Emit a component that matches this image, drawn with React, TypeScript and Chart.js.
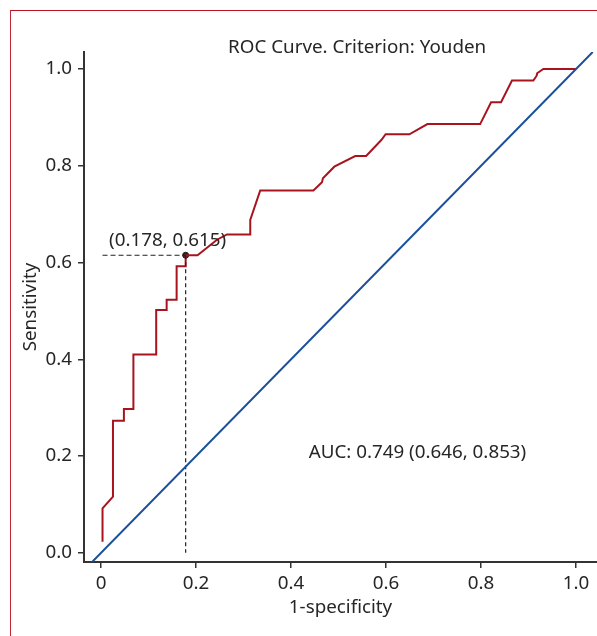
import React, { useEffect, useRef } from "react";
import { Chart, registerables } from "chart.js";

Chart.register(...registerables);

const fpr = [0.003, 0.003, 0.025, 0.025, 0.048, 0.048, 0.068, 0.068, 0.116, 0.116, 0.138, 0.138, 0.159, 0.159, 0.178, 0.178, 0.203, 0.244, 0.265, 0.314, 0.314, 0.335, 0.447, 0.465, 0.467, 0.491, 0.535, 0.558, 0.587, 0.59, 0.599, 0.649, 0.687, 0.798, 0.821, 0.842, 0.865, 0.91, 0.917, 0.918, 0.931, 1.0];
const tpr = [0.023, 0.092, 0.116, 0.273, 0.273, 0.297, 0.297, 0.41, 0.41, 0.502, 0.502, 0.523, 0.523, 0.592, 0.592, 0.615, 0.615, 0.647, 0.658, 0.658, 0.688, 0.749, 0.749, 0.766, 0.774, 0.798, 0.82, 0.82, 0.85, 0.853, 0.865, 0.865, 0.886, 0.886, 0.931, 0.931, 0.976, 0.976, 0.986, 0.991, 1.0, 1.0];
const refX = [-0.02, 1.035];
const refY = [-0.02, 1.035];
const cutX = 0.178;
const cutY = 0.615;
const xTicks = [0, 0.2, 0.4, 0.6, 0.8, 1.0];
const xTickLabels = ["0", "0.2", "0.4", "0.6", "0.8", "1.0"];
const yTicks = [0, 0.2, 0.4, 0.6, 0.8, 1.0];
const yTickLabels = ["0.0", "0.2", "0.4", "0.6", "0.8", "1.0"];
const titleText = "ROC Curve. Criterion: Youden";
const cutLabel = "(0.178, 0.615)";
const aucLabel = "AUC: 0.749 (0.646, 0.853)";

const FONT = "'Noto Sans', sans-serif";
const FS = 18.8;
const TEXT = "#262626";

const textPlugin = {
  id: "texts",
  afterDatasetsDraw(chart: any) {
    const { ctx, scales } = chart;
    const x = scales.x;
    const y = scales.y;
    ctx.save();
    ctx.fillStyle = TEXT;
    ctx.font = `${FS}px ${FONT}`;
    ctx.textBaseline = "middle";
    ctx.textAlign = "center";
    ctx.fillText(titleText, x.getPixelForValue(0.539), y.getPixelForValue(1.045));
    ctx.fillText(cutLabel, x.getPixelForValue(0.14), y.getPixelForValue(0.645));
    ctx.fillText(aucLabel, x.getPixelForValue(0.666), y.getPixelForValue(0.207));
    ctx.restore();
  },
};

export default function App() {
  const ref = useRef<HTMLCanvasElement | null>(null);
  useEffect(() => {
    if (!ref.current) return;
    const chart = new Chart(ref.current, {
      type: "scatter",
      data: {
        datasets: [
          {
            data: refX.map((v, i) => ({ x: v, y: refY[i] })),
            showLine: true,
            borderColor: "#1b4f9a",
            borderWidth: 2,
            pointRadius: 0,
          },
          {
            data: [
              { x: fpr[0], y: cutY },
              { x: cutX, y: cutY },
            ],
            showLine: true,
            borderColor: "#222",
            borderWidth: 1.2,
            borderDash: [5, 3],
            pointRadius: 0,
          },
          {
            data: [
              { x: cutX, y: cutY },
              { x: cutX, y: 0 },
            ],
            showLine: true,
            borderColor: "#222",
            borderWidth: 1.2,
            borderDash: [4, 3],
            pointRadius: 0,
          },
          {
            data: fpr.map((v, i) => ({ x: v, y: tpr[i] })),
            showLine: true,
            borderColor: "#a8141e",
            borderWidth: 2,
            pointRadius: 0,
          },
          {
            data: [{ x: cutX, y: cutY }],
            showLine: false,
            backgroundColor: "#222",
            borderColor: "#222",
            pointRadius: 3,
          },
        ],
      },
      options: {
        animation: false,
        responsive: false,
        layout: { autoPadding: false, padding: { top: 52, left: 0, right: 0, bottom: 0 } },
        plugins: { legend: { display: false }, tooltip: { enabled: false } },
        scales: {
          x: {
            type: "linear",
            min: -0.036,
            max: 1.044,
            afterFit: (s: any) => {
              s.height = 74;
              s.paddingLeft = 0;
              s.paddingRight = 0;
            },
            afterBuildTicks: (s: any) => {
              s.ticks = xTicks.map((v) => ({ value: v }));
            },
            ticks: {
              color: TEXT,
              font: { family: FONT, size: FS },
              padding: 4,
              maxRotation: 0,
              callback: (v: any) => {
                const i = xTicks.findIndex((t) => Math.abs(t - v) < 1e-6);
                return i >= 0 ? xTickLabels[i] : "";
              },
            },
            grid: { drawOnChartArea: false, drawTicks: true, tickLength: 6, color: "#333", lineWidth: 1.5 },
            border: { display: true, color: "#333", width: 2 },
            title: {
              display: true,
              text: "1-specificity",
              color: TEXT,
              font: { family: FONT, size: FS },
              padding: { top: 0, bottom: 17 },
            },
          },
          y: {
            type: "linear",
            min: -0.019,
            max: 1.035,
            afterFit: (s: any) => {
              s.width = 84;
              s.paddingTop = 0;
              s.paddingBottom = 0;
            },
            afterBuildTicks: (s: any) => {
              s.ticks = yTicks.map((v) => ({ value: v }));
            },
            ticks: {
              color: TEXT,
              font: { family: FONT, size: FS },
              padding: 6,
              callback: (v: any) => {
                const i = yTicks.findIndex((t) => Math.abs(t - v) < 1e-6);
                return i >= 0 ? yTickLabels[i] : "";
              },
            },
            grid: { drawOnChartArea: false, drawTicks: true, tickLength: 6, color: "#333", lineWidth: 1.5 },
            border: { display: true, color: "#333", width: 2 },
            title: {
              display: true,
              text: "Sensitivity",
              color: TEXT,
              font: { family: FONT, size: FS },
              padding: { top: 19, bottom: 0 },
            },
          },
        },
      },
      plugins: [textPlugin],
    } as any);
    return () => chart.destroy();
  }, []);

  return (
    <div style={{ position: "fixed", left: 0, top: 0, width: 597, height: 636, overflow: "hidden", background: "#fff" }}>
      <div
        style={{
          position: "absolute",
          left: 10,
          top: 10,
          width: 700,
          height: 700,
          borderLeft: "1px solid #c0283a",
          borderTop: "1px solid #b51420",
        }}
      />
      <canvas ref={ref} width={597} height={636} style={{ position: "absolute", left: 0, top: 0, width: 597, height: 636 }} />
    </div>
  );
}
